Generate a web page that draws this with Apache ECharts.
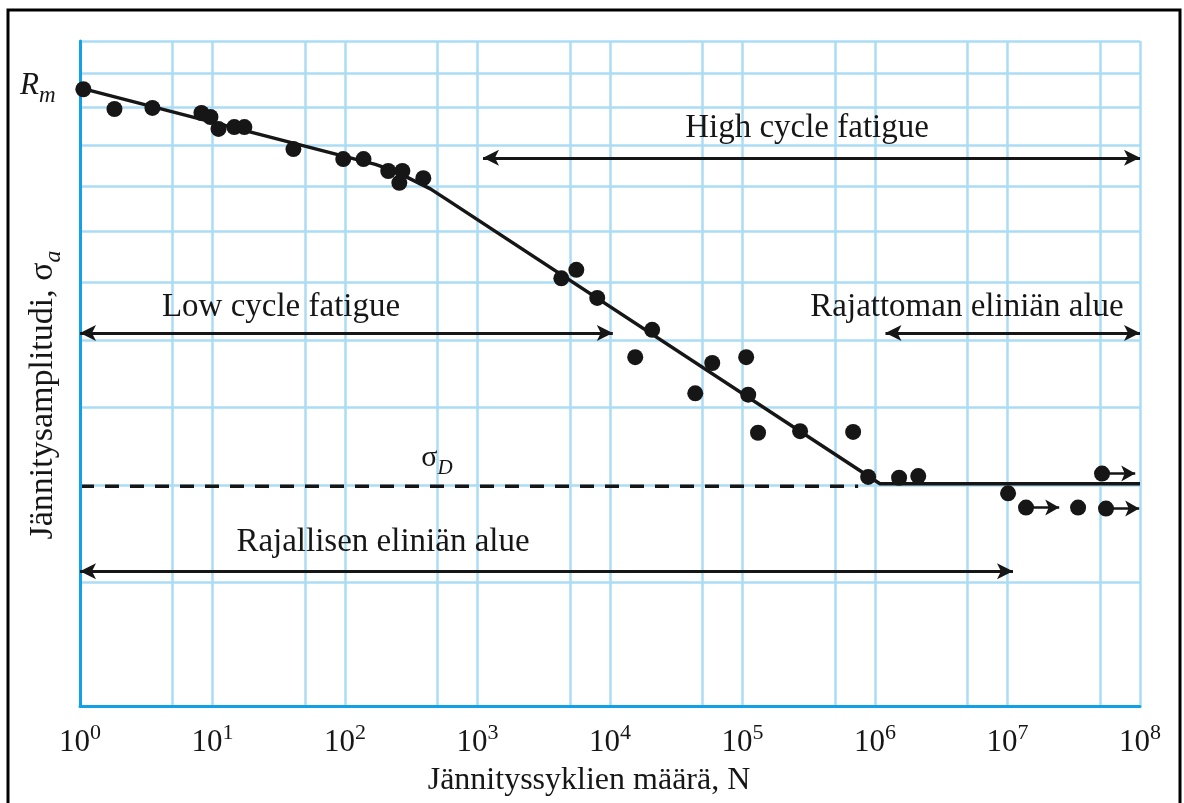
<!DOCTYPE html>
<html>
<head>
<meta charset="utf-8">
<script src="https://cdn.jsdelivr.net/npm/echarts@6/dist/echarts.min.js"></script>
<style>
html,body{margin:0;padding:0;background:#fff;}
#chart{width:1184px;height:803px;}
</style>
</head>
<body>
<div id="chart"></div>
<script>
// ---- data ----
const cyclesN = [1.06, 1.82, 3.52, 8.25, 9.65, 11.1, 14.6, 17.4, 40.8, 97, 138, 212, 271, 257, 390,
  4290, 5570, 8010, 20800, 15500, 44000, 59100, 106600, 110400, 131000, 272000, 684000,
  888000, 1.52e6, 2.12e6, 1.01e7, 1.38e7, 3.41e7, 5.17e7, 5.54e7];
const stressAmp = [12.52, 11.96, 11.99, 11.85, 11.74, 11.42, 11.47, 11.47, 10.90, 10.65, 10.65, 10.36, 10.36, 10.08, 10.19,
  8.08, 8.24, 7.72, 7.17, 6.73, 6.19, 6.64, 6.73, 6.17, 5.65, 5.67, 5.66,
  5.10, 5.09, 5.11, 4.91, 4.75, 4.75, 5.14, 4.74];
const runout = [0,0,0,0,0,0,0,0,0,0,0,0,0,0,0,
  0,0,0,0,0,0,0,0,0,0,0,0,
  0,0,0,0,1,0,1,1];
const fitN = [1, 169.5, 240, 322, 441, 592, 1.09e6, 1e8];
const fitS = [12.56, 10.52, 10.35, 10.15, 9.94, 9.69, 5.02, 5.02];
const sigmaD = 4.99;
const dashEndN = 7.46e5;
const gridN = [5, 10, 50, 100, 500, 1e3, 5e3, 1e4, 5e4, 1e5, 5e5, 1e6, 5e6, 1e7, 5e7, 1e8];
const gridS = [4, 5, 6, 7, 8, 9, 10, 11, 12, 13, 14];
const tickExponents = [0, 1, 2, 3, 4, 5, 6, 7, 8];
// ranges: [startN, endN, stress]
const highRange = [1.1e3, 1e8, 10.68];
const lowRange = [1, 1.05e4, 7.12];
const infRange = [1.2e6, 1e8, 7.12];
const finRange = [1, 1.1e7, 4.10];

const FONT = 'Liberation Serif';
const INK = '#161616';
const GRID = '#aadcf5';
const AXIS = '#12a0e6';

const chart = echarts.init(document.getElementById('chart'), null, {renderer: 'canvas'});

const pts = cyclesN.map((n, i) => [n, stressAmp[i]]);
const fit = fitN.map((n, i) => [n, fitS[i]]);
const runoutLines = [];
cyclesN.forEach((n, i) => {
  if (runout[i]) runoutLines.push([{coord: [n, stressAmp[i]], symbol: 'none'}, {coord: [n * 1.78, stressAmp[i]], symbol: 'arrow'}]);
});
const rangeLine = r => [{coord: [r[0], r[2]]}, {coord: [r[1], r[2]]}];

const gridMark = gridN.map(v => ({xAxis: v})).concat(gridS.map(v => ({yAxis: v})));

const option = {
  animation: false,
  backgroundColor: '#fff',
  grid: {left: 80, right: 44, top: 41, bottom: 97, containLabel: false},
  xAxis: {
    type: 'log', logBase: 10, min: 1, max: 1e8, splitNumber: 8, z: 5,
    axisLine: {show: true, onZero: false, lineStyle: {color: AXIS, width: 3}},
    axisTick: {show: false},
    splitLine: {show: false},
    axisLabel: {
      margin: 16,
      formatter: v => '{b|10}{s|' + Math.round(Math.log10(v)) + '}',
      rich: {
        b: {fontFamily: FONT, fontSize: 31, color: INK, lineHeight: 36, verticalAlign: 'bottom'},
        s: {fontFamily: FONT, fontSize: 22, color: INK, verticalAlign: 'top', lineHeight: 22}
      }
    }
  },
  yAxis: {
    type: 'log', logBase: 10, min: 3, max: 14, z: 5,
    axisLine: {show: true, onZero: false, lineStyle: {color: AXIS, width: 3}},
    axisTick: {show: false},
    splitLine: {show: false},
    axisLabel: {show: false}
  },
  series: [
    {
      type: 'line', data: [], z: 1, silent: true,
      markLine: {
        z: 1, silent: true, symbol: 'none', label: {show: false}, animation: false,
        lineStyle: {color: GRID, width: 2.5, type: 'solid'},
        data: gridMark
      }
    },
    {
      type: 'line', data: [[1, sigmaD], [dashEndN, sigmaD]], z: 3, silent: true,
      symbol: 'none', lineStyle: {color: INK, width: 3.5, type: [14, 11]}
    },
    {
      type: 'line', data: fit, z: 4, silent: true, symbol: 'none',
      lineStyle: {color: INK, width: 3.5}
    },
    {
      type: 'scatter', data: pts, z: 6, symbol: 'circle', symbolSize: 16,
      itemStyle: {color: INK, opacity: 1},
      markLine: {
        z: 6, silent: true, label: {show: false}, animation: false,
        symbolSize: [12, 14],
        lineStyle: {color: INK, width: 2.5, type: 'solid'},
        data: runoutLines
      }
    },
    {
      type: 'line', data: [], z: 6, silent: true,
      markLine: {
        z: 6, silent: true, label: {show: false}, animation: false,
        symbol: ['arrow', 'arrow'], symbolSize: [12, 16],
        lineStyle: {color: INK, width: 3, type: 'solid'},
        data: [rangeLine(highRange), rangeLine(lowRange), rangeLine(infRange), rangeLine(finRange)]
      }
    }
  ],
  graphic: [
    {type: 'rect', shape: {x: 8, y: 10, width: 1172, height: 830}, style: {fill: 'none', stroke: '#000', lineWidth: 3}, z: 100, silent: true},
    {type: 'text', x: 807, y: 128, style: {text: 'High cycle fatigue', font: '33px "Liberation Serif"', fill: INK, align: 'center', verticalAlign: 'middle'}, z: 100},
    {type: 'text', x: 281, y: 307, style: {text: 'Low cycle fatigue', font: '33px "Liberation Serif"', fill: INK, align: 'center', verticalAlign: 'middle'}, z: 100},
    {type: 'text', x: 967, y: 307, style: {text: 'Rajattoman eliniän alue', font: '33px "Liberation Serif"', fill: INK, align: 'center', verticalAlign: 'middle'}, z: 100},
    {type: 'text', x: 383, y: 542, style: {text: 'Rajallisen eliniän alue', font: '33px "Liberation Serif"', fill: INK, align: 'center', verticalAlign: 'middle'}, z: 100},
    {type: 'text', x: 589, y: 781, style: {text: 'Jännityssyklien määrä, N', font: '32px "Liberation Serif"', fill: INK, align: 'center', verticalAlign: 'middle'}, z: 100},
    {type: 'text', x: 437, y: 458, style: {
      text: '{a|σ}{b|D}', align: 'center', verticalAlign: 'middle',
      rich: {a: {fontFamily: FONT, fontSize: 30, fill: INK, lineHeight: 30}, b: {fontFamily: FONT, fontStyle: 'italic', fontSize: 21, fill: INK, verticalAlign: 'bottom', lineHeight: 21, padding: [0, 0, -6, 0]}}
    }, z: 100},
    {type: 'text', x: 20, y: 86, style: {
      text: '{a|R}{b|m}', align: 'left', verticalAlign: 'middle',
      rich: {a: {fontFamily: FONT, fontStyle: 'italic', fontSize: 31, fill: INK, lineHeight: 31}, b: {fontFamily: FONT, fontStyle: 'italic', fontSize: 23, fill: INK, verticalAlign: 'bottom', lineHeight: 23, padding: [0, 0, -6, 0]}}
    }, z: 100},
    {type: 'text', x: 43, y: 395, rotation: Math.PI / 2, style: {
      text: '{a|Jännitysamplitudi, σ}{b|a}', align: 'center', verticalAlign: 'middle',
      rich: {a: {fontFamily: FONT, fontSize: 34, fill: INK, lineHeight: 34}, b: {fontFamily: FONT, fontStyle: 'italic', fontSize: 24, fill: INK, verticalAlign: 'bottom', lineHeight: 24, padding: [0, 0, -6, 0]}}
    }, z: 100}
  ]
};
chart.setOption(option);
</script>
</body>
</html>
